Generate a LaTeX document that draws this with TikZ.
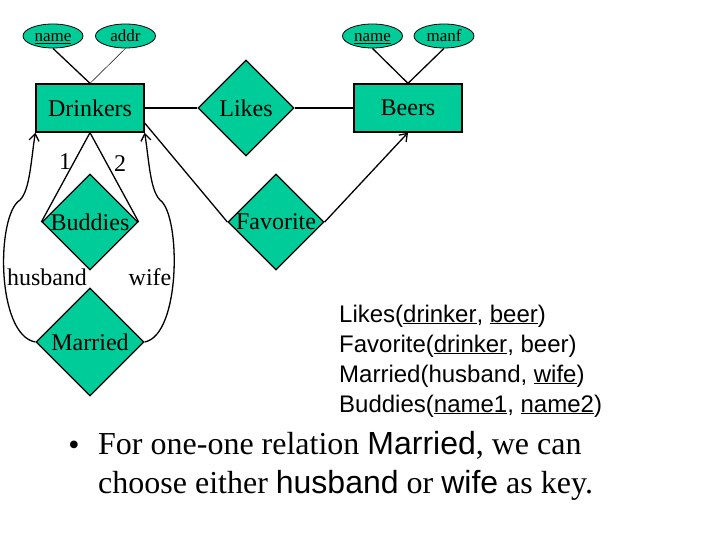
\documentclass[tikz,border=0pt]{standalone}
\usepackage{fontspec}
\setmainfont{Liberation Serif}
\newfontfamily\arialfont{Liberation Sans}
\usetikzlibrary{shapes.geometric,arrows.meta}
\definecolor{ergreen}{RGB}{0,204,153}
\newcommand\erfont{\fontsize{24}{28}\selectfont}
\newcommand\attrfont{\fontsize{17}{20}\selectfont}
\newcommand\relfont{\arialfont\fontsize{24}{30}\selectfont}
\newcommand\notefont{\fontsize{32}{40}\selectfont}
\begin{document}
\begin{tikzpicture}[x=1pt,y=-1pt,
  entity/.style={draw,fill=ergreen,line width=1.3pt,minimum width=108pt,minimum height=48pt,inner sep=0pt,font=\erfont},
  attr/.style={draw,fill=ergreen,ellipse,line width=0.8pt,minimum width=60pt,minimum height=24pt,inner sep=0pt,text height=12pt,text depth=0pt,font=\attrfont},
  rel/.style={draw,fill=ergreen,diamond,line width=1.3pt,minimum width=96pt,minimum height=96pt,inner sep=0pt,font=\erfont},
  edge/.style={line width=1.3pt},
  arr/.style={-{Straight Barb[length=7pt,width=10pt]}}]
\useasboundingbox (0,0) rectangle (720,540);
% entities and relationships
\node[entity] (drinkers) at (90,108) {Drinkers};
\node[entity] (beers) at (408,108) {Beers};
\node[rel] (likes) at (246,108) {\makebox[0pt]{Likes}};
\node[rel] (buddies) at (90,222) {\makebox[0pt]{Buddies}};
\node[rel] (favorite) at (276,222) {\makebox[0pt]{Favorite}};
\node[rel,minimum width=108pt,minimum height=108pt] (married) at (90,342) {\makebox[0pt]{Married}};
% attributes
\node[attr] (drname) at (53,36) {\underline{name}};
\node[attr] (addr) at (125.5,36) {addr};
\node[attr] (bname) at (372.5,36) {\underline{name}};
\node[attr] (manf) at (444,36) {manf};
\draw[edge] (drname.south) -- (drinkers.north);
\draw[line width=0.5pt] (addr.south) -- (drinkers.north);
\draw[edge] (bname.south) -- (beers.north);
\draw[edge] (manf.south) -- (beers.north);
% connectors
\draw[edge] (drinkers) -- (likes) -- (beers);
\draw[edge] (drinkers.south) -- (buddies.west);
\draw[edge] (drinkers.south) -- (buddies.east);
\draw[edge] ([yshift=-15pt]drinkers.east) -- (favorite.west);
\draw[edge,arr] (favorite.east) -- (beers.south);
\coordinate (lkink) at (20,200);
\coordinate (rkink) at (160,200);
\draw[edge,arr] (married.west) .. controls (-4,335) and (-4,215) .. (lkink) .. controls (30,190) and (31,160) .. (drinkers.south west);
\draw[edge,arr] (married.east) .. controls (181,335) and (181,215) .. (rkink) .. controls (150,190) and (149,160) .. (drinkers.south east);
% role labels
\node[font=\erfont] (one) at (65,162) {1};
\node[font=\erfont] (two) at (120,164) {2};
\node[font=\erfont] (husband) at (47,277) {husband};
\node[font=\erfont] (wife) at (150,277) {wife};
% relations
\node[font=\relfont,anchor=base west,inner sep=0pt] (rlikes) at (339,322) {Likes(\underline{drinker}, \underline{beer})};
\node[font=\relfont,anchor=base west,inner sep=0pt] (rfav) at (339,352) {Favorite(\underline{drinker}, beer)};
\node[font=\relfont,anchor=base west,inner sep=0pt] (rmar) at (339,382) {Married(husband, \underline{wife})};
\node[font=\relfont,anchor=base west,inner sep=0pt] (rbud) at (339,412) {Buddies(\underline{name1}, \underline{name2})};
% note
\node[font=\notefont,inner sep=0pt] (bullet) at (74,448) {•};
\node[font=\notefont,anchor=base west,inner sep=0pt] (note1) at (98,454) {For one-one relation {\arialfont Married}, we can};
\node[font=\notefont,anchor=base west,inner sep=0pt] (note2) at (98,493) {choose either {\arialfont husband} or {\arialfont wife} as key.};
\end{tikzpicture}
\end{document}
